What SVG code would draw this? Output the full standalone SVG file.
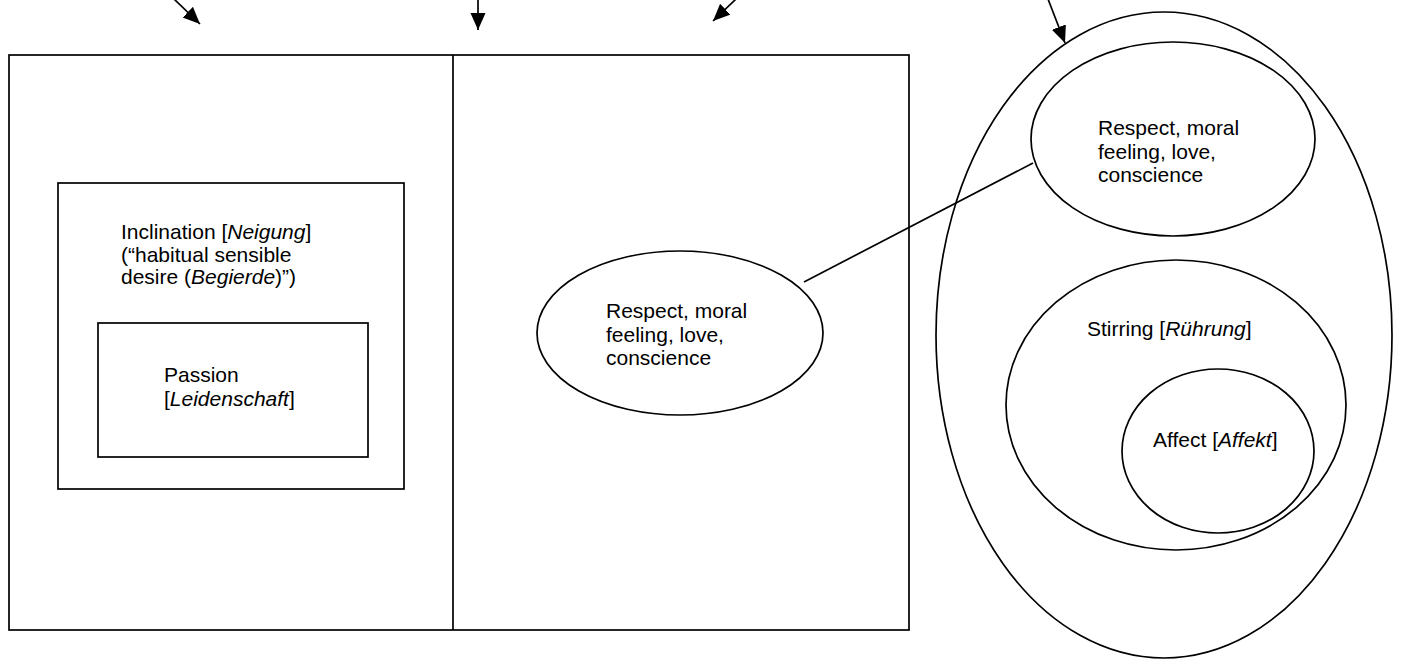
<svg xmlns="http://www.w3.org/2000/svg" width="1406" height="659" viewBox="0 0 1406 659">
<style>
.s{fill:none;stroke:#000;stroke-width:1.7}
.t{font-family:"Liberation Sans",Arial,sans-serif;font-size:21px;fill:#000}
.i{font-style:italic}
</style>
<defs>
<marker id="ah" markerUnits="userSpaceOnUse" markerWidth="20" markerHeight="18" refX="17" refY="8" orient="auto">
<path d="M0,0.5 L17,8 L0,15.5 z" fill="#000"/>
</marker>
</defs>
<rect width="1406" height="659" fill="#fff"/>
<g id="connectors">
<line class="s" x1="174" y1="-1" x2="200" y2="24" marker-end="url(#ah)"/>
<line class="s" x1="478" y1="-1" x2="478" y2="30" marker-end="url(#ah)"/>
<line class="s" x1="736" y1="-1" x2="713" y2="21" marker-end="url(#ah)"/>
<line class="s" x1="1048" y1="-1" x2="1065" y2="43" marker-end="url(#ah)"/>
<line class="s" x1="804" y1="282" x2="1033" y2="163"/>
</g>
<g id="outer-box">
<rect class="s" x="9" y="55" width="900" height="575"/>
<line class="s" x1="453" y1="55" x2="453" y2="630"/>
</g>
<g id="inclination">
<rect class="s" x="58" y="183" width="346" height="306"/>
<text class="t" x="121" y="239">Inclination [<tspan class="i">Neigung</tspan>]</text>
<text class="t" x="121" y="261.5">(“habitual sensible</text>
<text class="t" x="121" y="284">desire (<tspan class="i">Begierde</tspan>)”)</text>
</g>
<g id="passion">
<rect class="s" x="98" y="323" width="270" height="134"/>
<text class="t" x="164" y="382">Passion</text>
<text class="t" x="164" y="406">[<tspan class="i">Leidenschaft</tspan>]</text>
</g>
<g id="respect-middle">
<ellipse class="s" cx="680" cy="333" rx="143" ry="82"/>
<text class="t" x="606" y="318">Respect, moral</text>
<text class="t" x="606" y="342">feeling, love,</text>
<text class="t" x="606" y="365">conscience</text>
</g>
<g id="big-ellipse">
<ellipse class="s" cx="1164" cy="335" rx="228" ry="323"/>
</g>
<g id="respect-right">
<ellipse class="s" cx="1173" cy="139" rx="142" ry="97"/>
<text class="t" x="1098" y="135">Respect, moral</text>
<text class="t" x="1098" y="159">feeling, love,</text>
<text class="t" x="1098" y="182">conscience</text>
</g>
<g id="stirring">
<ellipse class="s" cx="1176" cy="405" rx="170" ry="145"/>
<text class="t" x="1087" y="336">Stirring [<tspan class="i">Rührung</tspan>]</text>
</g>
<g id="affect">
<ellipse class="s" cx="1218" cy="451" rx="96" ry="82"/>
<text class="t" x="1153" y="447">Affect [<tspan class="i">Affekt</tspan>]</text>
</g>
</svg>
